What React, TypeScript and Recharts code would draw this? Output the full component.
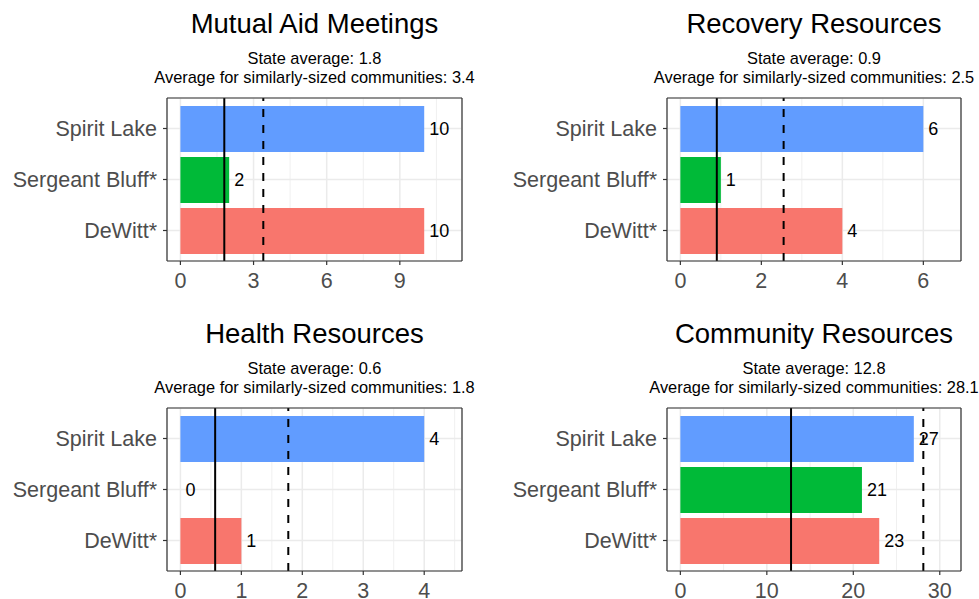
import React from 'react';
import { BarChart, Bar, XAxis, YAxis, CartesianGrid, ReferenceLine, ReferenceDot, Cell } from 'recharts';

const categories = ['Spirit Lake', 'Sergeant Bluff*', 'DeWitt*'];
const barColors = ['#619CFF', '#00BA38', '#F8766D'];
const titles = ['Mutual Aid Meetings', 'Recovery Resources', 'Health Resources', 'Community Resources'];
const mutualAidValues = [10, 2, 10];
const recoveryValues = [6, 1, 4];
const healthValues = [4, 0, 1];
const communityValues = [27, 21, 23];
const stateAverages = [1.8, 0.9, 0.57, 12.8];
const similarAverages = [3.4, 2.55, 1.77, 28.1];
const stateAverageLabels = ['1.8', '0.9', '0.6', '12.8'];
const similarAverageLabels = ['3.4', '2.5', '1.8', '28.1'];
const majorTicks = [[0, 3, 6, 9], [0, 2, 4, 6], [0, 1, 2, 3, 4], [0, 10, 20, 30]];
const minorTicks = [[1.5, 4.5, 7.5, 10.5], [1, 3, 5], [0.5, 1.5, 2.5, 3.5, 4.5], [5, 15, 25]];
const axisUpper = [11, 6.6, 4.4, 30.91];

const seriesValues = [mutualAidValues, recoveryValues, healthValues, communityValues];

const layout = [
  { left: 0, top: 0, yw: 167, pw: 295 },
  { left: 490, top: 0, yw: 177, pw: 294 },
  { left: 0, top: 310, yw: 167, pw: 295 },
  { left: 490, top: 310, yw: 177, pw: 294 },
];

const FONT = '"Liberation Sans", Arial, Helvetica, sans-serif';
const BORDER = '#333333';

function makeValueLabel(text: string) {
  return (props: any) => {
    const vb = props.viewBox || {};
    const x = Number(vb.x || 0) + Number(vb.width || 0) + 5;
    const y = Number(vb.y || 0) + Number(vb.height || 0) / 2;
    return (
      <text x={x} y={y} dy="0.36em" textAnchor="start" fontSize={18} fill="#000000">
        {text}
      </text>
    );
  };
}

function Panel({ index }: { index: number }) {
  const values = seriesValues[index];
  const data = categories.map((name, i) => ({ name, value: values[i] }));
  const upper = axisUpper[index];
  const domain: [number, number] = [-0.05 * upper, 1.05 * upper];
  const L = layout[index];
  const W = 490;
  const H = 300;
  return (
    <div style={{ position: 'absolute', left: L.left, top: L.top, width: W, height: H }}>
      <BarChart
        width={W}
        height={H}
        data={data}
        layout="vertical"
        margin={{ top: 97, right: W - L.yw - L.pw - 1, bottom: 9, left: 0 }}
      >
        <CartesianGrid xAxisId="minor" yAxisId="left" horizontal={false} stroke="#F0F0F0" strokeWidth={1} />
        <CartesianGrid xAxisId="main" yAxisId="left" stroke="#EBEBEB" strokeWidth={1.5} />
        <XAxis xAxisId="minor" type="number" domain={domain} ticks={minorTicks[index]} hide allowDataOverflow />
        <XAxis
          xAxisId="main"
          type="number"
          domain={domain}
          ticks={majorTicks[index]}
          allowDataOverflow
          height={30}
          tickSize={4}
          tickMargin={8}
          tick={{ fontSize: 21.5, fill: '#4D4D4D' }}
          tickLine={{ stroke: BORDER, strokeWidth: 1.2 }}
          axisLine={{ stroke: BORDER, strokeWidth: 1.2 }}
        />
        <XAxis
          xAxisId="top"
          orientation="top"
          type="number"
          domain={domain}
          allowDataOverflow
          height={1}
          tick={false}
          tickLine={false}
          axisLine={{ stroke: BORDER, strokeWidth: 1.2 }}
        />
        <YAxis
          yAxisId="left"
          type="category"
          dataKey="name"
          width={L.yw}
          padding={{ top: 5, bottom: 5 }}
          tickSize={4}
          tickMargin={6}
          tick={{ fontSize: 21.5, fill: '#4D4D4D' }}
          tickLine={{ stroke: BORDER, strokeWidth: 1.2 }}
          axisLine={{ stroke: BORDER, strokeWidth: 1.2 }}
        />
        <YAxis
          yAxisId="right"
          orientation="right"
          type="number"
          domain={[0, 1]}
          width={1}
          tick={false}
          tickLine={false}
          axisLine={{ stroke: BORDER, strokeWidth: 1.2 }}
        />
        <Bar xAxisId="main" yAxisId="left" dataKey="value" barSize={46} isAnimationActive={false}>
          {data.map((d, i) => (
            <Cell key={d.name} fill={barColors[i]} />
          ))}
        </Bar>
        {data.map((d) => (
          <ReferenceDot
            key={`lbl-${d.name}`}
            xAxisId="main"
            yAxisId="left"
            x={d.value}
            y={d.name}
            r={0}
            fill="none"
            stroke="none"
            label={makeValueLabel(String(d.value))}
          />
        ))}
        <ReferenceLine xAxisId="main" yAxisId="left" x={stateAverages[index]} stroke="#000000" strokeWidth={2} />
        <ReferenceLine
          xAxisId="main"
          yAxisId="left"
          x={similarAverages[index]}
          stroke="#000000"
          strokeWidth={2}
          strokeDasharray="8 8"
        />
      </BarChart>
    </div>
  );
}

export default function App() {
  return (
    <div
      style={{
        position: 'absolute',
        left: 0,
        top: 0,
        width: 979,
        height: 599,
        overflow: 'hidden',
        background: '#ffffff',
        fontFamily: FONT,
      }}
    >
      {layout.map((_, i) => (
        <Panel key={i} index={i} />
      ))}
      <svg width={979} height={599} style={{ position: 'absolute', left: 0, top: 0, pointerEvents: 'none' }}>
        {layout.map((L, i) => {
          const cx = L.left + L.yw + L.pw / 2;
          return (
            <g key={i} fontFamily={FONT}>
              <text x={cx} y={L.top + 33} textAnchor="middle" fontSize={27.5} fill="#000">
                {titles[i]}
              </text>
              <text x={cx} y={L.top + 64} textAnchor="middle" fontSize={16.4} fill="#000">
                {`State average: ${stateAverageLabels[i]}`}
              </text>
              <text x={cx} y={L.top + 82.7} textAnchor="middle" fontSize={16.4} fill="#000">
                {`Average for similarly-sized communities: ${similarAverageLabels[i]}`}
              </text>
            </g>
          );
        })}
      </svg>
    </div>
  );
}
